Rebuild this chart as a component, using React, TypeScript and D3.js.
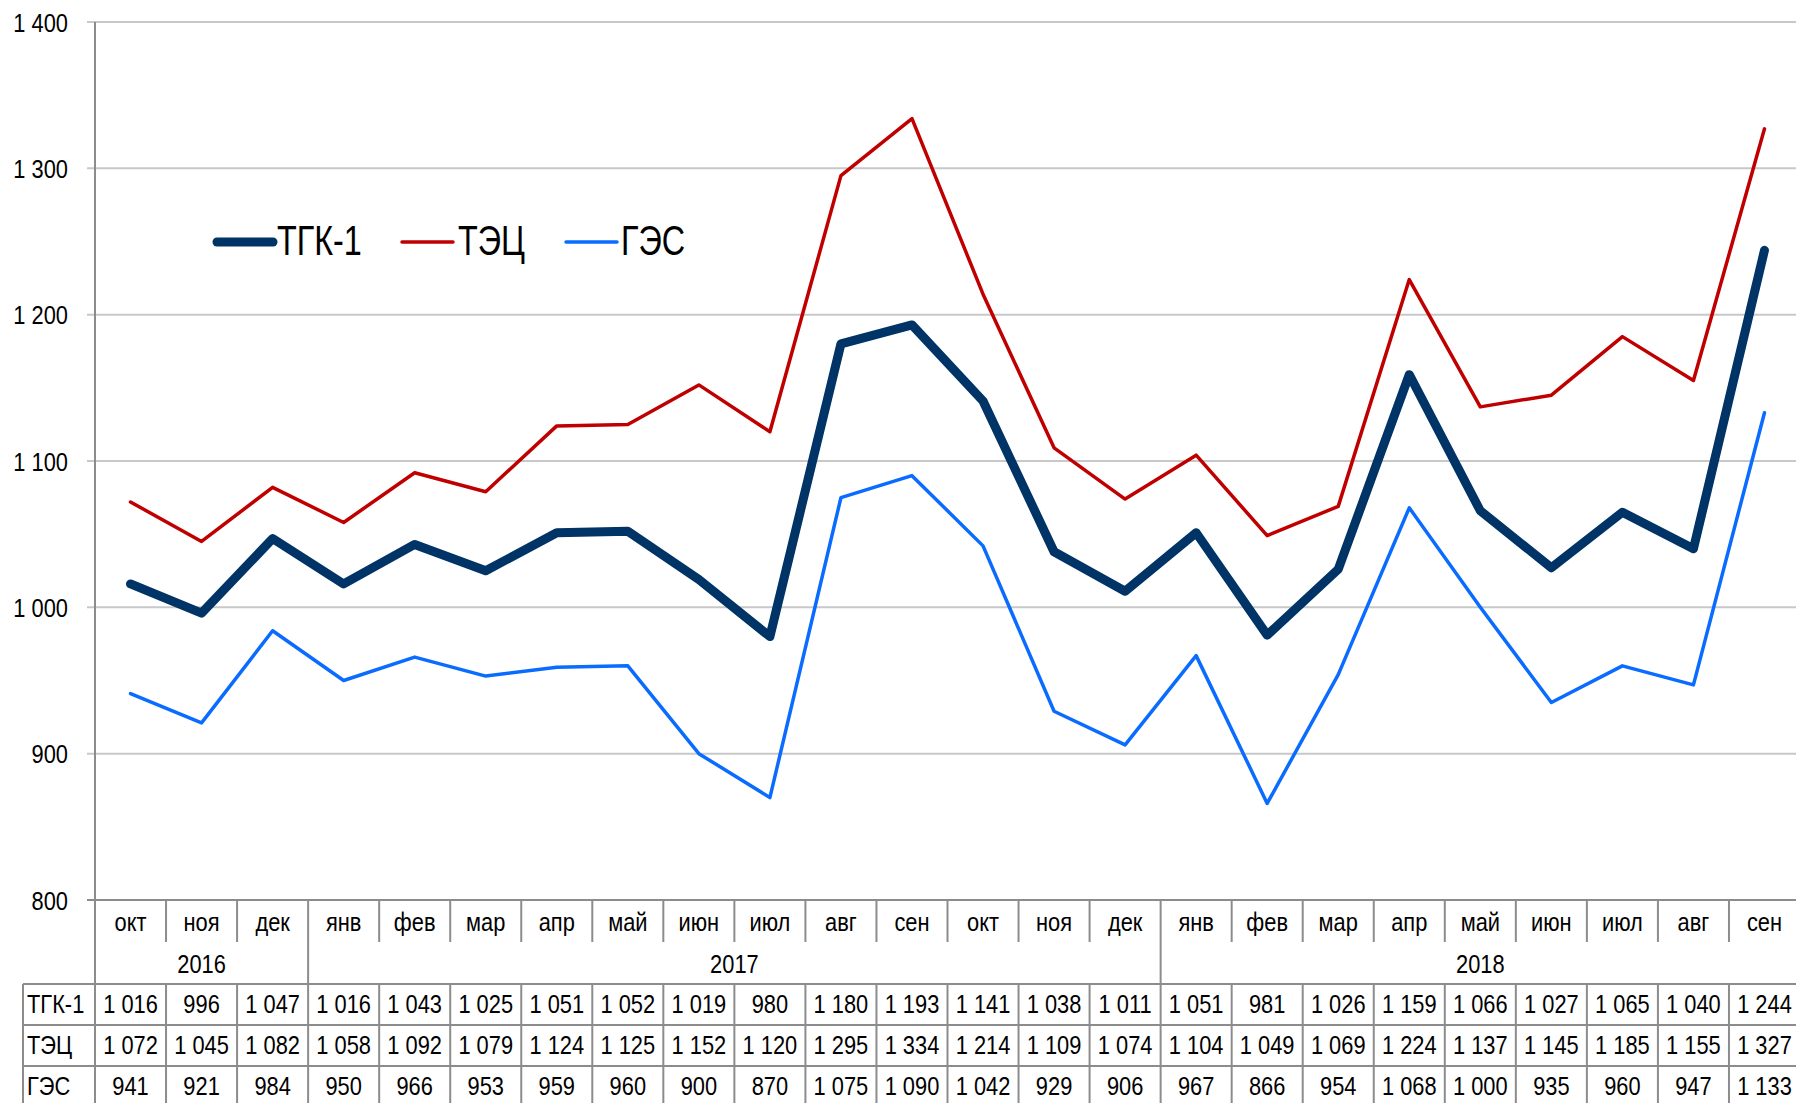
import React from 'react';
import * as d3 from 'd3';

// подписи месяцев и годов
const MONTHS = ['окт', 'ноя', 'дек', 'янв', 'фев', 'мар', 'апр', 'май', 'июн', 'июл', 'авг', 'сен',
  'окт', 'ноя', 'дек', 'янв', 'фев', 'мар', 'апр', 'май', 'июн', 'июл', 'авг', 'сен'];
const YEARS = ['2016', '2017', '2018'];
const YEAR_SPANS = [3, 12, 9];

const TGK1 = [1016, 996, 1047, 1016, 1043, 1025, 1051, 1052, 1019, 980, 1180, 1193,
  1141, 1038, 1011, 1051, 981, 1026, 1159, 1066, 1027, 1065, 1040, 1244];
const TEC = [1072, 1045, 1082, 1058, 1092, 1079, 1124, 1125, 1152, 1120, 1295, 1334,
  1214, 1109, 1074, 1104, 1049, 1069, 1224, 1137, 1145, 1185, 1155, 1327];
const GES = [941, 921, 984, 950, 966, 953, 959, 960, 900, 870, 1075, 1090,
  1042, 929, 906, 967, 866, 954, 1068, 1000, 935, 960, 947, 1133];

const Y_TICKS = [800, 900, 1000, 1100, 1200, 1300, 1400];

const SERIES = [
  { name: 'ТГК-1', values: TGK1, color: '#003366', width: 9 },
  { name: 'ТЭЦ', values: TEC, color: '#c00000', width: 3.5 },
  { name: 'ГЭС', values: GES, color: '#0a6cff', width: 3.5 },
];

const FONT = '"Liberation Sans", Arial, sans-serif';
const W = 1796;
const H = 1103;
const left = 95;
const right = 1800;
const top = 22;
const bottom = 900;
const tableLeft = 23;
const rowH = 41;
const tableTop = 984;
const SX = 0.84; // сжатие шрифта по ширине (узкий шрифт)

const fmt = (v: number) => {
  const s = String(v);
  return s.length > 3 ? s.slice(0, s.length - 3) + ' ' + s.slice(-3) : s;
};

// узкий текст
function NText({ x, y, anchor = 'start', size = 26, sx = SX, children }:
  { x: number; y: number; anchor?: string; size?: number; sx?: number; children: React.ReactNode }) {
  return (
    <text transform={`translate(${x},${y}) scale(${sx},1)`} textAnchor={anchor} fontSize={size} fill="#000">
      {children}
    </text>
  );
}

export default function App() {
  const x = d3.scaleBand<number>().domain(d3.range(MONTHS.length)).range([left, right]);
  const y = d3.scaleLinear().domain([800, 1400]).range([bottom, top]);
  const bw = x.bandwidth();
  const cx = (i: number) => (x(i) as number) + bw / 2;

  const line = d3.line<number>().x((d, i) => cx(i)).y(d => y(d));

  // границы годов
  const yearEdges: number[] = [0];
  YEAR_SPANS.forEach(s => yearEdges.push(yearEdges[yearEdges.length - 1] + s));
  const edgeX = (k: number) => left + k * bw;

  const legendPos = [
    { x1: 217, x2: 273, tx: 277 },
    { x1: 402, x2: 453, tx: 458 },
    { x1: 566, x2: 617, tx: 621 },
  ];

  return (
    <svg width={W} height={H} style={{ position: 'absolute', left: 0, top: 0, background: '#fff' }}
      fontFamily={FONT}>
      {/* сетка */}
      {Y_TICKS.map(t => (
        <g key={t}>
          <line x1={87} x2={W} y1={y(t)} y2={y(t)}
            stroke={t === 800 ? '#8c8c8c' : '#c8c8c8'} strokeWidth={2} />
          <NText x={68} y={y(t) + 9.5} anchor="end">{fmt(t)}</NText>
        </g>
      ))}
      <line x1={left} x2={left} y1={top} y2={H} stroke="#8c8c8c" strokeWidth={2} />

      {/* месяцы */}
      {MONTHS.map((m, i) => (
        <g key={'m' + i}>
          {i > 0 && !yearEdges.includes(i) && (
            <line x1={x(i)} x2={x(i)} y1={bottom} y2={942} stroke="#8c8c8c" strokeWidth={2} />
          )}
          <NText x={cx(i)} y={931} anchor="middle">{m}</NText>
        </g>
      ))}
      {/* годы */}
      {YEARS.map((yr, k) => (
        <g key={yr}>
          <line x1={edgeX(yearEdges[k + 1])} x2={edgeX(yearEdges[k + 1])} y1={bottom} y2={tableTop}
            stroke="#8c8c8c" strokeWidth={2} />
          <NText x={(edgeX(yearEdges[k]) + edgeX(yearEdges[k + 1])) / 2} y={973} anchor="middle">{yr}</NText>
        </g>
      ))}

      {/* таблица данных */}
      {[0, 1, 2, 3].map(r => (
        <line key={'h' + r} x1={tableLeft} x2={W} y1={tableTop + r * rowH} y2={tableTop + r * rowH}
          stroke="#8c8c8c" strokeWidth={2} />
      ))}
      <line x1={tableLeft} x2={tableLeft} y1={tableTop} y2={H} stroke="#8c8c8c" strokeWidth={2} />
      {MONTHS.map((m, i) => (
        <line key={'v' + i} x1={x(i)! + bw} x2={x(i)! + bw} y1={tableTop} y2={H}
          stroke="#8c8c8c" strokeWidth={2} />
      ))}
      {SERIES.map((s, r) => (
        <g key={'row' + s.name}>
          <NText x={27} y={tableTop + r * rowH + 29}>{s.name}</NText>
          {s.values.map((v, i) => (
            <NText key={i} x={cx(i)} y={tableTop + r * rowH + 29} anchor="middle">{fmt(v)}</NText>
          ))}
        </g>
      ))}

      {/* линии */}
      {SERIES.slice().reverse().map(s => (
        <path key={s.name} d={line(s.values) || ''} fill="none" stroke={s.color}
          strokeWidth={s.width} strokeLinejoin="round" strokeLinecap="round" />
      ))}

      {/* легенда */}
      {SERIES.map((s, k) => (
        <g key={'lg' + s.name}>
          <line x1={legendPos[k].x1} x2={legendPos[k].x2} y1={242} y2={242} stroke={s.color}
            strokeWidth={s.width} strokeLinecap="round" />
          <NText x={legendPos[k].tx} y={255} size={42} sx={0.77}>{s.name}</NText>
        </g>
      ))}
    </svg>
  );
}
